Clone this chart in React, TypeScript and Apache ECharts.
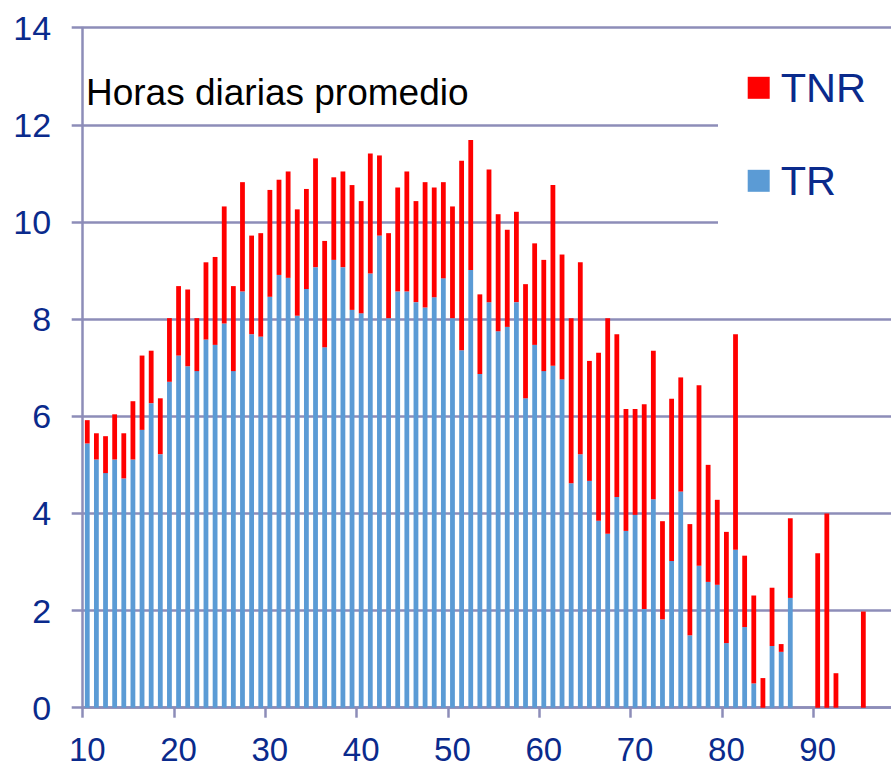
import React, { useEffect, useRef } from "react";
import * as echarts from "echarts";

// Age categories (years)
const ages = [
  "10", "11", "12", "13", "14", "15", "16", "17", "18", "19",
  "20", "21", "22", "23", "24", "25", "26", "27", "28", "29",
  "30", "31", "32", "33", "34", "35", "36", "37", "38", "39",
  "40", "41", "42", "43", "44", "45", "46", "47", "48", "49",
  "50", "51", "52", "53", "54", "55", "56", "57", "58", "59",
  "60", "61", "62", "63", "64", "65", "66", "67", "68", "69",
  "70", "71", "72", "73", "74", "75", "76", "77", "78", "79",
  "80", "81", "82", "83", "84", "85", "86", "87", "88", "89",
  "90", "91", "92", "93", "94", "95", "96", "97", "98",
];

// TR hours (blue, bottom of stack)
const trHours = [
  5.44, 5.11, 4.83, 5.11, 4.72, 5.11, 5.72, 6.27, 5.22, 6.71,
  7.25, 7.03, 6.93, 7.58, 7.47, 7.91, 6.93, 8.57, 7.69, 7.64,
  8.46, 8.91, 8.85, 8.07, 8.62, 9.07, 7.42, 9.22, 9.07, 8.19,
  8.12, 8.94, 9.72, 8.02, 8.57, 8.57, 8.35, 8.24, 8.45, 8.84,
  8.02, 7.36, 9.01, 6.87, 8.35, 7.75, 7.84, 8.35, 6.37, 7.47,
  6.93, 7.04, 6.76, 4.62, 5.22, 4.67, 3.85, 3.58, 4.34, 3.64,
  3.97, 2.03, 4.29, 1.82, 3.02, 4.45, 1.49, 2.92, 2.59, 2.53,
  1.33, 3.25, 1.66, 0.5, 0, 1.27, 1.15, 2.26, 0, 0,
  0, 0, 0, 0, 0, 0, 0, 0, 0,
];

// TNR hours (red, stacked on top of TR)
const tnrHours = [
  0.48, 0.54, 0.76, 0.93, 0.93, 1.2, 1.53, 1.08, 1.15, 1.31,
  1.43, 1.58, 1.09, 1.59, 1.81, 2.41, 1.75, 2.25, 2.03, 2.13,
  2.2, 1.96, 2.19, 2.19, 2.06, 2.24, 2.19, 1.7, 1.97, 2.57,
  2.31, 2.47, 1.65, 1.75, 2.14, 2.47, 2.08, 2.58, 2.26, 1.98,
  2.3, 3.9, 2.68, 1.64, 2.73, 2.41, 2.0, 1.86, 2.35, 2.09,
  2.29, 3.72, 2.57, 3.4, 3.95, 2.47, 3.46, 4.44, 3.35, 2.51,
  2.18, 4.22, 3.06, 2.02, 3.34, 2.35, 2.29, 3.72, 2.41, 1.75,
  2.29, 4.44, 1.47, 1.81, 0.61, 1.2, 0.16, 1.64, 0, 0,
  3.18, 4.0, 0.71, 0, 0, 1.98, 0, 0, 0,
];

const xTickLabels = ["10", "20", "30", "40", "50", "60", "70", "80", "90"];
const yTickValues = [0, 2, 4, 6, 8, 10, 12, 14];

const titleText = "Horas diarias promedio";
const seriesNames = ["TNR", "TR"];

const BLUE_TEXT = "#0a2a8c";
const GRID_COLOR = "#8d8db8";
const FONT = "'Liberation Sans', Arial, sans-serif";

export default function App() {
  const ref = useRef<HTMLDivElement>(null);

  useEffect(() => {
    if (!ref.current) return;
    const chart = echarts.init(ref.current, null, { renderer: "svg" });
    const yMin = yTickValues[0];
    const yMax = yTickValues[yTickValues.length - 1];
    const yStep = yTickValues[1] - yTickValues[0];

    chart.setOption({
      animation: false,
      backgroundColor: "#ffffff",
      textStyle: { fontFamily: FONT },
      title: {
        text: titleText,
        left: 86,
        top: 74,
        padding: 0,
        textStyle: {
          fontFamily: FONT,
          fontSize: 37,
          fontWeight: "normal",
          color: "#000000",
        },
      },
      legend: {
        orient: "vertical",
        left: 747.7,
        top: 59.8,
        padding: 0,
        itemWidth: 22,
        itemHeight: 22,
        itemGap: 37,
        icon: "rect",
        z: 200,
        data: seriesNames,
        textStyle: {
          fontFamily: FONT,
          fontSize: 41.5,
          lineHeight: 44,
          color: BLUE_TEXT,
          padding: [0, 0, 12, 6],
        },
      },
      graphic: [
        {
          type: "rect",
          z: 100,
          shape: { x: 718, y: 40, width: 200, height: 200 },
          style: { fill: "#ffffff" },
          silent: true,
        },
      ],
      grid: {
        left: 82.7,
        top: 27.7,
        width: 812.6,
        height: 680,
        containLabel: false,
      },
      xAxis: {
        type: "category",
        data: ages,
        boundaryGap: true,
        axisLine: { show: true, lineStyle: { color: GRID_COLOR, width: 2.5 } },
        axisTick: {
          show: true,
          interval: 9,
          length: 10,
          lineStyle: { color: GRID_COLOR, width: 2.5 },
        },
        axisLabel: {
          interval: 9,
          margin: 41.5,
          verticalAlign: "middle",
          lineHeight: 28,
          fontSize: 33,
          fontFamily: FONT,
          color: BLUE_TEXT,
          formatter: (v: string) => (xTickLabels.includes(v) ? v : ""),
        },
        splitLine: { show: false },
      },
      yAxis: {
        type: "value",
        min: yMin,
        max: yMax,
        interval: yStep,
        axisLine: { show: true, lineStyle: { color: GRID_COLOR, width: 2.5 } },
        axisTick: {
          show: true,
          length: 11,
          lineStyle: { color: GRID_COLOR, width: 2.5 },
        },
        axisLabel: {
          margin: 31.5,
          fontSize: 34,
          fontFamily: FONT,
          color: BLUE_TEXT,
        },
        splitLine: { show: true, lineStyle: { color: GRID_COLOR, width: 2.5 } },
      },
      series: [
        {
          name: "TR",
          type: "bar",
          stack: "total",
          data: trHours,
          barWidth: 4.8,
          itemStyle: { color: "#5b9bd5" },
        },
        {
          name: "TNR",
          type: "bar",
          stack: "total",
          data: tnrHours,
          barWidth: 4.8,
          itemStyle: { color: "#ff0000" },
        },
      ],
    });

    return () => chart.dispose();
  }, []);

  return (
    <div
      style={{
        position: "fixed",
        left: 0,
        top: 0,
        width: 891,
        height: 769,
        overflow: "hidden",
        background: "#ffffff",
      }}
    >
      <div ref={ref} style={{ width: 900, height: 769 }} />
    </div>
  );
}
